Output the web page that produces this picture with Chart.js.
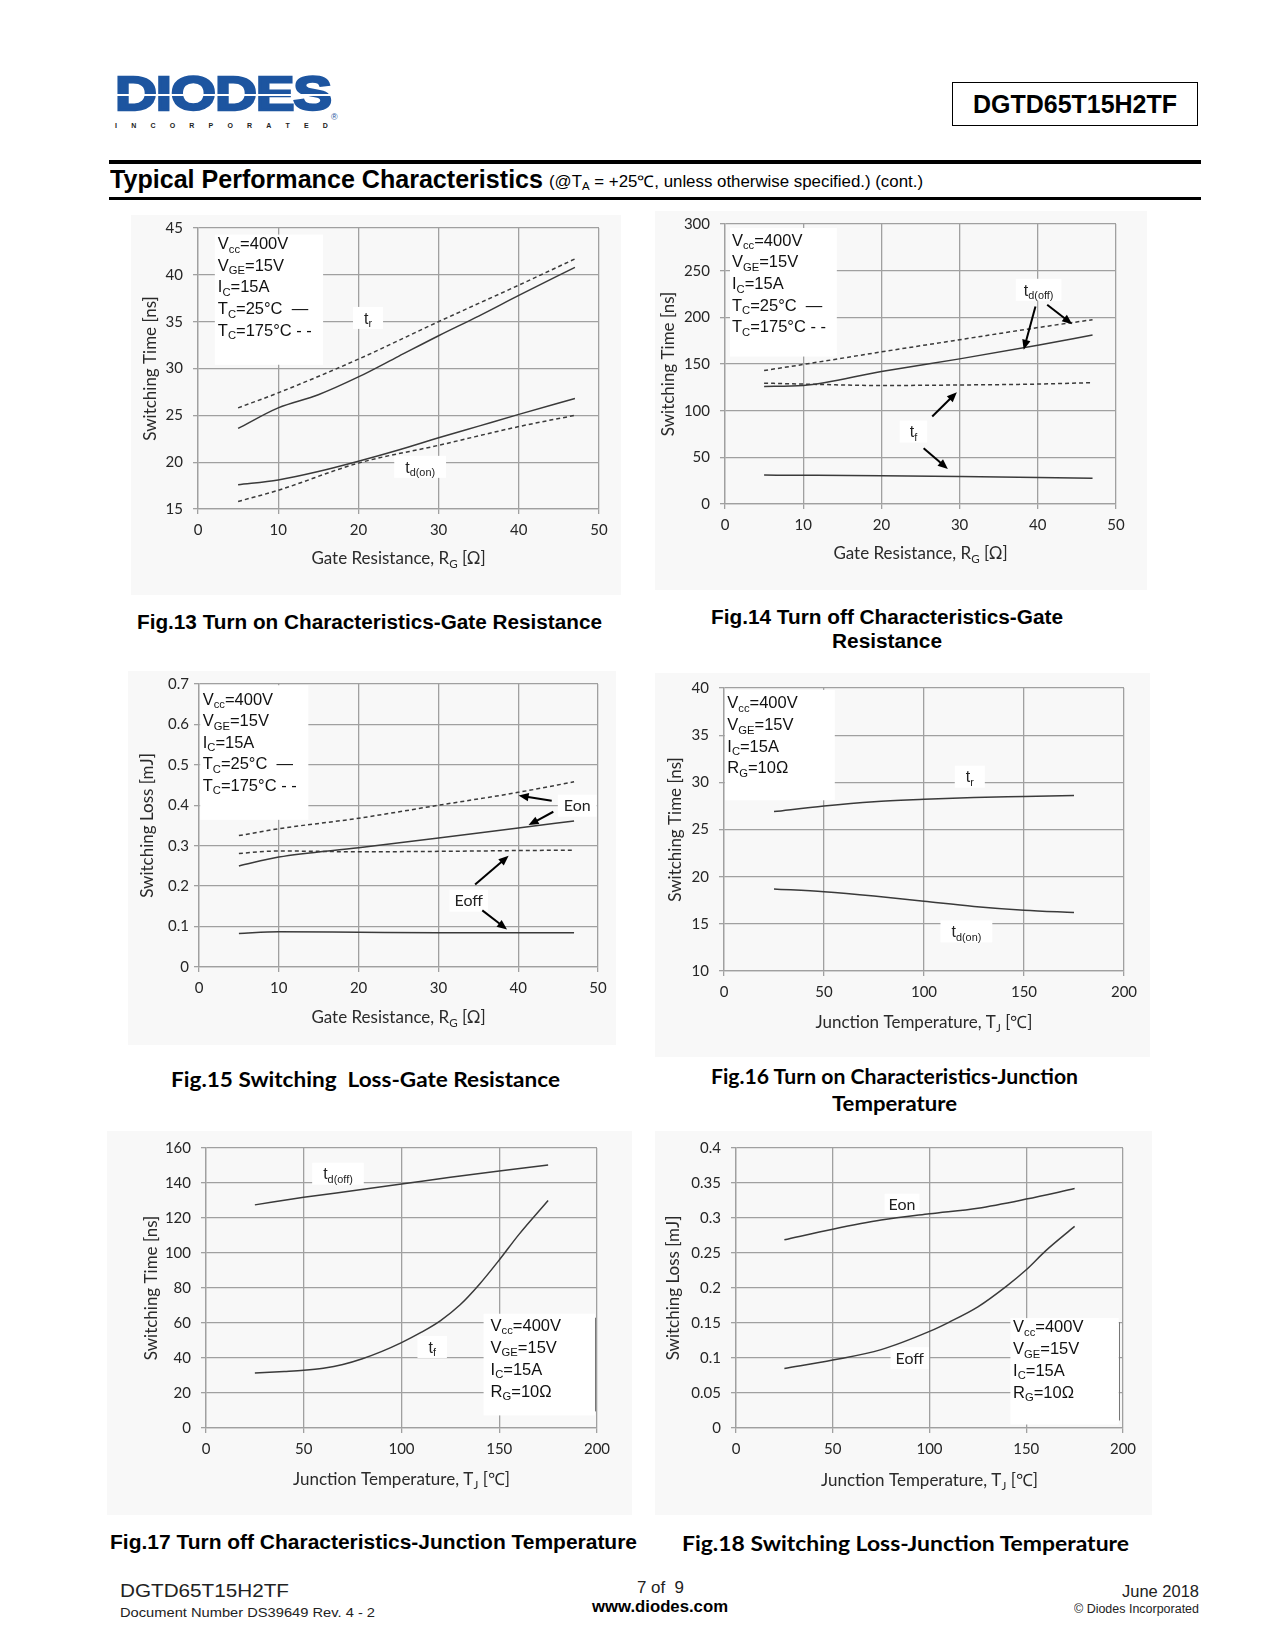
<!DOCTYPE html>
<html lang="en">
<head>
<meta charset="utf-8">
<title>DGTD65T15H2TF – Typical Performance Characteristics</title>
<script src="https://cdn.jsdelivr.net/npm/chart.js"></script>
<style>
html,body{margin:0;padding:0;background:#fff;}
body{position:relative;width:1275px;height:1650px;overflow:hidden;}
.t{position:absolute;white-space:nowrap;line-height:1;transform-origin:0 0;}
.t sub{font-size:0.68em;vertical-align:-0.25em;line-height:0;}
.rule{position:absolute;background:#000;}
.fig{position:absolute;background:#f8f8f8;}
.fig canvas{display:block;}
#pnbox{position:absolute;left:952px;top:82px;width:246px;height:44px;border:1.5px solid #000;box-sizing:border-box;}
#stripe{position:absolute;left:115px;top:94px;width:216px;height:2px;background:#fff;}
#inc{position:absolute;left:115px;top:122px;width:213px;height:8px;display:flex;justify-content:space-between;font:700 7px "Liberation Sans",Arial,sans-serif;color:#222;line-height:8px;}
</style>
</head>
<body>
<div id="pnbox"></div>
<div class="rule" style="left:109px;top:160px;width:1092px;height:4px"></div>
<div class="rule" style="left:109px;top:197px;width:1092px;height:3px"></div>
<div id="inc"><span>I</span><span>N</span><span>C</span><span>O</span><span>R</span><span>P</span><span>O</span><span>R</span><span>A</span><span>T</span><span>E</span><span>D</span></div>
<script>
// ---------------- DATA ----------------
const rgTicks = [0, 10, 20, 30, 40, 50];
const tjTicks = [0, 50, 100, 150, 200];
const fig13_yTicks = [15, 20, 25, 30, 35, 40, 45];
const fig14_yTicks = [0, 50, 100, 150, 200, 250, 300];
const fig15_yTicks = [0, 0.1, 0.2, 0.3, 0.4, 0.5, 0.6, 0.7];
const fig16_yTicks = [10, 15, 20, 25, 30, 35, 40];
const fig17_yTicks = [0, 20, 40, 60, 80, 100, 120, 140, 160];
const fig18_yTicks = [0, 0.05, 0.1, 0.15, 0.2, 0.25, 0.3, 0.35, 0.4];

// Fig.13 Turn on vs gate resistance
const fig13_rg      = [5, 10, 15, 20, 25, 30, 35, 40, 47];
const fig13_tr_25C  = [23.6, 25.8, 27.2, 29.1, 31.3, 33.5, 35.6, 37.8, 40.8];
const fig13_tdon_25C= [17.6, 18.1, 19.0, 20.1, 21.3, 22.6, 23.85, 25.1, 26.8];
const fig13_rg175   = [5, 10, 20, 30, 40, 47];
const fig13_tr_175C = [25.8, 27.4, 31.0, 35.0, 38.9, 41.7];
const fig13_tdon_175C=[15.8, 17.0, 19.9, 21.8, 23.8, 25.0];

// Fig.14 Turn off vs gate resistance
const fig14_rg        = [5, 10, 20, 30, 40, 47];
const fig14_tdoff_25C = [126, 127, 142, 155.5, 170, 181];
const fig14_tdoff_175C= [143, 149.5, 163, 176, 189, 197.5];
const fig14_tf_175C   = [129.5, 128.5, 127, 127.5, 128.5, 130];
const fig14_tf_25C    = [31, 30.8, 30.3, 29.5, 28.5, 27.5];

// Fig.15 Switching loss vs gate resistance
const fig15_rg        = [5, 10, 20, 30, 40, 47];
const fig15_eon_175C  = [0.325, 0.342, 0.368, 0.400, 0.432, 0.458];
const fig15_eon_25C   = [0.250, 0.272, 0.295, 0.319, 0.344, 0.361];
const fig15_eoff_175C = [0.281, 0.287, 0.285, 0.286, 0.288, 0.289];
const fig15_eoff_25C  = [0.083, 0.087, 0.086, 0.085, 0.085, 0.085];

// Fig.16 Turn on vs junction temperature
const fig16_tj   = [25, 50, 75, 100, 125, 150, 175];
const fig16_tr   = [26.9, 27.5, 27.95, 28.2, 28.4, 28.5, 28.6];
const fig16_tdon = [18.7, 18.4, 17.95, 17.4, 16.85, 16.45, 16.2];

// Fig.17 Turn off vs junction temperature
const fig17_tj    = [25, 50, 75, 100, 125, 150, 175];
const fig17_tdoff = [127.5, 131.8, 135.6, 139.4, 143.3, 146.9, 150.3];
const fig17_tjf   = [25, 40, 50, 60, 70, 80, 90, 100, 110, 120, 130, 140, 150, 160, 175];
const fig17_tf    = [31.4, 32.3, 33.0, 34.2, 36.3, 39.6, 43.8, 48.8, 54.6, 61.4, 70.4, 82.3, 96, 110.5, 130];

// Fig.18 Switching loss vs junction temperature
const fig18_tj    = [25, 50, 75, 100, 125, 150, 175];
const fig18_eon   = [0.269, 0.284, 0.297, 0.306, 0.314, 0.327, 0.342];
const fig18_tje   = [25, 50, 75, 100, 110, 125, 140, 150, 160, 175];
const fig18_eoff  = [0.085, 0.097, 0.112, 0.138, 0.151, 0.173, 0.203, 0.226, 0.253, 0.288];

// legend / condition texts
const legendRG = ['V_{cc}=400V', 'V_{GE}=15V', 'I_{C}=15A', 'T_{C}=25°C  —', 'T_{C}=175°C - -'];
const legendTJ = ['V_{cc}=400V', 'V_{GE}=15V', 'I_{C}=15A', 'R_{G}=10Ω'];

// annotation arrows [x1,y1,x2,y2] in data units
const fig14_arrows = [[39.7, 211.7, 38.2, 165.2], [41.2, 213.4, 44.4, 192.7], [26.5, 93.7, 29.65, 119.8], [25.4, 59.7, 28.5, 37.5]];
const fig15_arrows = [[44.2, 0.411, 40.05, 0.424], [44.4, 0.384, 41.3, 0.351], [34.6, 0.204, 38.8, 0.275], [35.5, 0.140, 38.6, 0.093]];

// ---------------- HELPERS ----------------
const LIB = '"Liberation Sans", Arial, sans-serif';
const LATO = 'Lato, sans-serif';
const BASEK = {lib: 0.8465, lato: 0.887};
function txt(html, o) {
  const s = document.createElement('span');
  s.className = 't';
  s.innerHTML = html;
  const fam = o.fam || 'lib';
  s.style.fontFamily = fam === 'lato' ? LATO : LIB;
  s.style.fontSize = o.size + 'px';
  s.style.fontWeight = o.bold ? '700' : '400';
  s.style.color = o.color || '#000';
  if (o.ls) s.style.letterSpacing = o.ls + 'px';
  if (o.stroke) s.style.webkitTextStroke = o.stroke + 'px ' + (o.color || '#000');
  document.body.appendChild(s);
  const w0 = s.getBoundingClientRect().width;
  const sc = o.w ? o.w / w0 : 1;
  const w = w0 * sc;
  const left = o.align === 'c' ? o.x - w / 2 : (o.align === 'r' ? o.x - w : o.x);
  s.style.left = left + 'px';
  s.style.top = (o.base - BASEK[fam] * o.size) + 'px';
  s.style.transform = 'scaleX(' + sc + ')';
  return s;
}
function fnt(size, fam, bold) { return (bold ? '700 ' : '400 ') + size + 'px ' + fam; }
function parseRich(s) {
  const out = []; const re = /_\{([^}]*)\}/g; let last = 0, m;
  while ((m = re.exec(s))) {
    if (m.index > last) out.push({t: s.slice(last, m.index), sub: false});
    out.push({t: m[1], sub: true}); last = re.lastIndex;
  }
  if (last < s.length) out.push({t: s.slice(last), sub: false});
  return out;
}
function richWidth(ctx, s, size, fam) {
  let w = 0;
  for (const p of parseRich(s)) { ctx.font = fnt(p.sub ? size * 0.68 : size, fam); w += ctx.measureText(p.t).width; }
  return w;
}
function drawRich(ctx, s, x, y, size, fam, align) {
  const w = richWidth(ctx, s, size, fam);
  let cx = align === 'center' ? x - w / 2 : (align === 'right' ? x - w : x);
  ctx.textAlign = 'left'; ctx.textBaseline = 'alphabetic';
  for (const p of parseRich(s)) {
    const sz = p.sub ? size * 0.68 : size;
    ctx.font = fnt(sz, fam);
    ctx.fillText(p.t, cx, p.sub ? y + size * 0.22 : y);
    cx += ctx.measureText(p.t).width;
  }
  return w;
}
function arrow(ctx, x1, y1, x2, y2) {
  const a = Math.atan2(y2 - y1, x2 - x1), L = 10, hw = 4.2;
  ctx.beginPath(); ctx.moveTo(x1, y1); ctx.lineTo(x2 - (L - 2) * Math.cos(a), y2 - (L - 2) * Math.sin(a)); ctx.stroke();
  ctx.beginPath(); ctx.moveTo(x2, y2);
  ctx.lineTo(x2 - L * Math.cos(a) + hw * Math.sin(a), y2 - L * Math.sin(a) - hw * Math.cos(a));
  ctx.lineTo(x2 - L * Math.cos(a) - hw * Math.sin(a), y2 - L * Math.sin(a) + hw * Math.cos(a));
  ctx.closePath(); ctx.fill();
}

const GRID = '#a0a0a0';
const TICKC = '#262626';
Chart.defaults.font.family = LATO;

function overlay(spec) {
  return {
    id: 'ov_' + spec.id,
    beforeDatasetsDraw(chart) {
      const ctx = chart.ctx, xs = chart.scales.x, ys = chart.scales.y;
      ctx.save();
      ctx.fillStyle = '#fff';
      if (spec.legend) {
        const L = spec.legend;
        const x1 = xs.getPixelForValue(L.x1), x2 = xs.getPixelForValue(L.x2);
        const y1 = ys.getPixelForValue(L.y1), y2 = ys.getPixelForValue(L.y2);
        ctx.fillRect(x1, y1, x2 - x1, y2 - y1);
        if (L.edge) {
          ctx.strokeStyle = '#777'; ctx.lineWidth = 1;
          ctx.beginPath(); ctx.moveTo(Math.round(x2) + 0.5, y1 + 4); ctx.lineTo(Math.round(x2) + 0.5, y2 - 4); ctx.stroke();
        }
      }
      for (const lb of spec.labels || []) {
        const w = richWidth(ctx, lb.t, lb.size, lb.fam);
        const px = xs.getPixelForValue(lb.x), py = ys.getPixelForValue(lb.y);
        ctx.fillStyle = '#fff';
        ctx.fillRect(px - w / 2 - lb.pad, py - 11, w + 2 * lb.pad, 22);
      }
      ctx.restore();
    },
    afterDatasetsDraw(chart) {
      const ctx = chart.ctx, xs = chart.scales.x, ys = chart.scales.y;
      ctx.save();
      ctx.fillStyle = '#111';
      if (spec.legend) {
        const L = spec.legend;
        const x1 = xs.getPixelForValue(L.x1), y1 = ys.getPixelForValue(L.y1);
        L.lines.forEach((line, i) => drawRich(ctx, line, x1 + L.dx, y1 + L.y0 + i * L.lh, 16.5, LIB, 'left'));
      }
      for (const lb of spec.labels || []) {
        const px = xs.getPixelForValue(lb.x), py = ys.getPixelForValue(lb.y);
        ctx.fillStyle = '#222';
        drawRich(ctx, lb.t, px, py + lb.size * 0.36, lb.size, lb.fam, 'center');
      }
      ctx.strokeStyle = '#000'; ctx.fillStyle = '#000'; ctx.lineWidth = 2;
      for (const a of spec.arrows || []) {
        arrow(ctx, xs.getPixelForValue(a[0]), ys.getPixelForValue(a[1]), xs.getPixelForValue(a[2]), ys.getPixelForValue(a[3]));
      }
      ctx.restore();
    },
    afterDraw(chart) {
      const ctx = chart.ctx, ca = chart.chartArea;
      ctx.save();
      ctx.fillStyle = '#2a2a2a';
      drawRich(ctx, spec.xTitle.text, (ca.left + ca.right) / 2, spec.xTitle.base - spec.box.t, 17, LATO, 'center');
      ctx.translate(spec.yTitle.cx - spec.box.l, (ca.top + ca.bottom) / 2);
      ctx.rotate(-Math.PI / 2);
      drawRich(ctx, spec.yTitle.text, 0, 6, 17, LATO, 'center');
      ctx.restore();
    }
  };
}

function buildChart(spec) {
  const box = spec.box, plot = spec.plot;
  const W = box.r - box.l, H = box.b - box.t;
  const div = document.createElement('div');
  div.className = 'fig';
  Object.assign(div.style, {left: box.l + 'px', top: box.t + 'px', width: W + 'px', height: H + 'px'});
  const cv = document.createElement('canvas');
  cv.width = W; cv.height = H;
  cv.style.width = W + 'px'; cv.style.height = H + 'px';
  div.appendChild(cv);
  document.body.appendChild(div);
  const ds = spec.series.map(s => ({
    data: s.x.map((x, i) => ({x: x, y: s.y[i]})),
    showLine: true, fill: false, pointRadius: 0, pointHoverRadius: 0,
    borderColor: '#3a3a3a', borderWidth: 1.5,
    borderDash: s.dash ? [4, 3] : [],
    cubicInterpolationMode: 'monotone'
  }));
  const xT = spec.xTicks, yT = spec.yTicks;
  new Chart(cv, {
    type: 'scatter',
    data: {datasets: ds},
    options: {
      responsive: false, maintainAspectRatio: false, animation: false, devicePixelRatio: 1, events: [],
      layout: {padding: {left: 0, right: box.r - plot.r, top: plot.t - box.t, bottom: 0}},
      plugins: {legend: {display: false}, tooltip: {enabled: false}},
      scales: {
        x: {
          type: 'linear', position: 'bottom', min: xT[0], max: xT[xT.length - 1],
          afterBuildTicks: s => { s.ticks = xT.map(v => ({value: v})); },
          afterFit: s => { s.height = box.b - plot.b; s.paddingLeft = 0; s.paddingRight = 0; },
          grid: {color: GRID, lineWidth: 1.3, tickLength: 5, drawTicks: true},
          border: {color: GRID, width: 1.3},
          ticks: {font: {family: LATO, size: 15}, color: TICKC, padding: 7, maxRotation: 0, autoSkip: false,
                  callback: (v, i) => String(xT[i])}
        },
        y: {
          type: 'linear', position: 'left', min: yT[0], max: yT[yT.length - 1],
          afterBuildTicks: s => { s.ticks = yT.map(v => ({value: v})); },
          afterFit: s => { s.width = plot.l - box.l; s.paddingTop = 0; s.paddingBottom = 0; },
          grid: {color: GRID, lineWidth: 1.3, tickLength: 5, drawTicks: true},
          border: {color: GRID, width: 1.3},
          ticks: {font: {family: LATO, size: 15}, color: TICKC, padding: spec.yPad, autoSkip: false,
                  callback: (v, i) => String(yT[i])}
        }
      }
    },
    plugins: [overlay(spec)]
  });
}

// ---------------- CHARTS ----------------
buildChart({
  id: 'f13', box: {l: 131, t: 215, r: 621, b: 595}, plot: {l: 198, t: 228, r: 599, b: 509},
  xTicks: rgTicks, yTicks: fig13_yTicks, yPad: 10,
  series: [
    {x: fig13_rg, y: fig13_tr_25C}, {x: fig13_rg175, y: fig13_tr_175C, dash: true},
    {x: fig13_rg, y: fig13_tdon_25C}, {x: fig13_rg175, y: fig13_tdon_175C, dash: true}
  ],
  yTitle: {text: 'Switching Time [ns]', cx: 150}, xTitle: {text: 'Gate Resistance, R_{G} [Ω]', base: 564},
  legend: {x1: 2.1, x2: 15.6, y1: 44.3, y2: 30.4, lines: legendRG, dx: 3, y0: 14.5, lh: 21.7},
  labels: [{t: 't_{r}', x: 21.2, y: 35.4, pad: 11, size: 16, fam: LIB}, {t: 't_{d(on)}', x: 27.7, y: 19.5, pad: 11, size: 16, fam: LIB}]
});
buildChart({
  id: 'f14', box: {l: 655, t: 211, r: 1147, b: 590}, plot: {l: 725, t: 224, r: 1116, b: 504},
  xTicks: rgTicks, yTicks: fig14_yTicks, yPad: 10,
  series: [
    {x: fig14_rg, y: fig14_tdoff_25C}, {x: fig14_rg, y: fig14_tdoff_175C, dash: true},
    {x: fig14_rg, y: fig14_tf_175C, dash: true}, {x: fig14_rg, y: fig14_tf_25C}
  ],
  yTitle: {text: 'Switching Time [ns]', cx: 668}, xTitle: {text: 'Gate Resistance, R_{G} [Ω]', base: 559},
  legend: {x1: 0.64, x2: 14.3, y1: 295.7, y2: 158, lines: legendRG, dx: 2, y0: 17.5, lh: 21.7},
  labels: [{t: 't_{d(off)}', x: 40.1, y: 229.5, pad: 8, size: 16, fam: LIB}, {t: 't_{f}', x: 24.1, y: 77.6, pad: 10, size: 16, fam: LIB}],
  arrows: fig14_arrows
});
buildChart({
  id: 'f15', box: {l: 128, t: 671, r: 616, b: 1045}, plot: {l: 199, t: 684, r: 598, b: 967},
  xTicks: rgTicks, yTicks: fig15_yTicks, yPad: 5,
  series: [
    {x: fig15_rg, y: fig15_eon_175C, dash: true}, {x: fig15_rg, y: fig15_eon_25C},
    {x: fig15_rg, y: fig15_eoff_175C, dash: true}, {x: fig15_rg, y: fig15_eoff_25C}
  ],
  yTitle: {text: 'Switching Loss [mJ]', cx: 147}, xTitle: {text: 'Gate Resistance, R_{G} [Ω]', base: 1023},
  legend: {x1: 0.15, x2: 13.7, y1: 0.697, y2: 0.364, lines: legendRG, dx: 2.5, y0: 19.5, lh: 21.5},
  labels: [{t: 'Eon', x: 47.4, y: 0.399, pad: 6, size: 16, fam: LATO}, {t: 'Eoff', x: 33.8, y: 0.164, pad: 5, size: 16, fam: LATO}],
  arrows: fig15_arrows
});
buildChart({
  id: 'f16', box: {l: 655, t: 673, r: 1150, b: 1057}, plot: {l: 724, t: 688, r: 1124, b: 971},
  xTicks: tjTicks, yTicks: fig16_yTicks, yPad: 10,
  series: [{x: fig16_tj, y: fig16_tr}, {x: fig16_tj, y: fig16_tdon}],
  yTitle: {text: 'Switching Time [ns]', cx: 675}, xTitle: {text: 'Junction Temperature, T_{J} [℃]', base: 1028},
  legend: {x1: 0.5, x2: 55.4, y1: 39.8, y2: 28.1, lines: legendTJ, dx: 2.3, y0: 18.3, lh: 21.7},
  labels: [{t: 't_{r}', x: 122.9, y: 30.6, pad: 11, size: 16, fam: LIB}, {t: 't_{d(on)}', x: 121.2, y: 14.2, pad: 11, size: 16, fam: LIB}]
});
buildChart({
  id: 'f17', box: {l: 107, t: 1131, r: 632, b: 1515}, plot: {l: 206, t: 1148, r: 597, b: 1428},
  xTicks: tjTicks, yTicks: fig17_yTicks, yPad: 10,
  series: [{x: fig17_tj, y: fig17_tdoff}, {x: fig17_tjf, y: fig17_tf}],
  yTitle: {text: 'Switching Time [ns]', cx: 150.5}, xTitle: {text: 'Junction Temperature, T_{J} [℃]', base: 1485},
  legend: {x1: 142, x2: 199, y1: 65.3, y2: 7.2, lines: legendTJ, dx: 7, y0: 17, lh: 22, edge: true},
  labels: [{t: 't_{d(off)}', x: 67.5, y: 145.3, pad: 11, size: 16, fam: LIB}, {t: 't_{f}', x: 115.7, y: 46.3, pad: 11, size: 16, fam: LIB}]
});
buildChart({
  id: 'f18', box: {l: 655, t: 1131, r: 1152, b: 1515}, plot: {l: 736, t: 1148, r: 1123, b: 1428},
  xTicks: tjTicks, yTicks: fig18_yTicks, yPad: 10,
  series: [{x: fig18_tj, y: fig18_eon}, {x: fig18_tje, y: fig18_eoff}],
  yTitle: {text: 'Switching Loss [mJ]', cx: 673}, xTitle: {text: 'Junction Temperature, T_{J} [℃]', base: 1486},
  legend: {x1: 141.8, x2: 197.8, y1: 0.157, y2: 0.005, lines: legendTJ, dx: 2.7, y0: 14.3, lh: 21.7, edge: true},
  labels: [{t: 'Eon', x: 85.8, y: 0.319, pad: 4, size: 16, fam: LATO}, {t: 'Eoff', x: 89.8, y: 0.0998, pad: 5, size: 16, fam: LATO}]
});

// ---------------- PAGE TEXT ----------------
txt('DIODES', {x: 115, base: 110, size: 49, bold: true, color: '#1d55a0', w: 216, ls: -1, stroke: 2.4});
const stripe = document.createElement('div'); stripe.id = 'stripe'; document.body.appendChild(stripe);
txt('®', {x: 331, base: 121, size: 9, color: '#1d55a0'});
txt('DGTD65T15H2TF', {x: 1075, base: 113.3, size: 25.5, bold: true, w: 204, align: 'c'});
txt('Typical Performance Characteristics', {x: 110, base: 188.5, size: 25.5, bold: true, w: 433});
txt('(@T<sub>A</sub> = +25℃, unless otherwise specified.) (cont.)', {x: 549, base: 188, size: 16, w: 374});

txt('Fig.13 Turn on Characteristics-Gate Resistance', {x: 369.5, base: 629, size: 20, bold: true, w: 465, align: 'c'});
txt('Fig.14 Turn off Characteristics-Gate', {x: 887, base: 623.5, size: 20, bold: true, w: 352, align: 'c'});
txt('Resistance', {x: 887, base: 648, size: 20, bold: true, w: 110, align: 'c'});
txt('Fig.15 Switching&nbsp; Loss-Gate Resistance', {x: 365.5, base: 1086.5, size: 20, bold: true, fam: 'lato', w: 389, align: 'c'});
txt('Fig.16 Turn on Characteristics-Junction', {x: 894.5, base: 1084, size: 20, bold: true, fam: 'lato', w: 367, align: 'c'});
txt('Temperature', {x: 894.5, base: 1111, size: 20, bold: true, fam: 'lato', w: 125, align: 'c'});
txt('Fig.17 Turn off Characteristics-Junction Temperature', {x: 373.5, base: 1549, size: 20, bold: true, w: 527, align: 'c'});
txt('Fig.18 Switching Loss-Junction Temperature', {x: 905.5, base: 1551, size: 20, bold: true, fam: 'lato', w: 447, align: 'c'});

txt('DGTD65T15H2TF', {x: 120, base: 1597, size: 18, w: 169, color: '#222'});
txt('Document Number DS39649 Rev. 4 - 2', {x: 120, base: 1617, size: 13.5, w: 255, color: '#222'});
txt('7 of&nbsp; 9', {x: 660, base: 1594, size: 16, w: 47, align: 'c', color: '#222'});
txt('www.diodes.com', {x: 660, base: 1613, size: 16, bold: true, w: 136, align: 'c'});
txt('June 2018', {x: 1199, base: 1597, size: 17, w: 77, align: 'r', color: '#222'});
txt('© Diodes Incorporated', {x: 1199, base: 1613, size: 12, w: 125, align: 'r', color: '#222'});
</script>
</body>
</html>
